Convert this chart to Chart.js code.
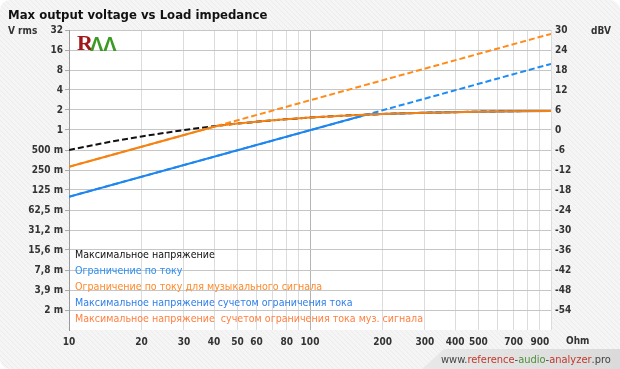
<!DOCTYPE html>
<html>
<head>
<meta charset="utf-8">
<script src="https://cdn.jsdelivr.net/npm/chart.js@4.4.0/dist/chart.umd.min.js"></script>
<style>
  html, body { margin: 0; padding: 0; background: #fff; }
  #wrap { width: 620px; height: 369px; }
</style>
</head>
<body>
<div id="wrap"><canvas id="voltChart" width="620" height="369"></canvas></div>
<script>
// load impedance ticks (Ohm)
const ohmTicks  = [10, 20, 30, 40, 50, 60, 70, 80, 90, 100, 200, 300, 400, 500, 600, 700, 800, 900, 1000];
const ohmLabels = ['10', '20', '30', '40', '50', '60', '', '80', '', '100', '200', '300', '400', '500', '', '700', '', '900', ''];

// voltage ticks (V rms), one per octave, and their dBV twins
const voltTicks  = [0.001953125, 0.00390625, 0.0078125, 0.015625, 0.03125, 0.0625, 0.125, 0.25, 0.5, 1, 2, 4, 8, 16, 32];
const voltLabels = ['2 m', '3,9 m', '7,8 m', '15,6 m', '31,2 m', '62,5 m', '125 m', '250 m', '500 m', '1', '2', '4', '8', '16', '32'];
const dbvLabels  = ['-54', '-48', '-42', '-36', '-30', '-24', '-18', '-12', '-6', '0', '6', '12', '18', '24', '30'];

// series
const maxVoltOhms = [10, 15, 20, 30, 40, 50, 70, 100, 150, 200, 300, 500, 700, 1000];
const maxVolt     = [0.50, 0.67, 0.80, 1.00, 1.14, 1.25, 1.40, 1.54, 1.67, 1.74, 1.82, 1.89, 1.92, 1.94];

const currLimitOhms = [10, 1000];
const currLimit     = [0.099, 9.9];

const musicLimitOhms = [10, 1000];
const musicLimit     = [0.28, 28];

const maxCurrOhms = [10, 172, 200, 300, 500, 700, 1000];
const maxCurr     = [0.099, 1.71, 1.74, 1.82, 1.89, 1.92, 1.94];

const maxMusicOhms = [10, 20, 30, 41, 50, 70, 100, 150, 200, 300, 500, 700, 1000];
const maxMusic     = [0.28, 0.56, 0.84, 1.15, 1.25, 1.40, 1.54, 1.67, 1.74, 1.82, 1.89, 1.92, 1.94];

const FONT = "'DejaVu Sans Condensed', 'DejaVu Sans', sans-serif";

function pts(xs, ys) {
  return xs.map((x, i) => ({ x: x, y: ys[i] }));
}

// hatched grey background with rounded corners, white plot area
const backgroundPlugin = {
  id: 'backdrop',
  beforeDraw(chart) {
    const ctx = chart.ctx;
    const w = chart.width, h = chart.height;
    ctx.save();
    ctx.fillStyle = '#fff';
    ctx.fillRect(0, 0, w, h);

    const tile = document.createElement('canvas');
    tile.width = 5; tile.height = 5;
    const t = tile.getContext('2d');
    t.fillStyle = '#f5f5f5';
    t.fillRect(0, 0, 5, 5);
    t.strokeStyle = '#ececec';
    t.lineWidth = 1;
    t.beginPath();
    t.moveTo(0, 0); t.lineTo(5, 5);
    t.stroke();

    ctx.beginPath();
    ctx.roundRect(0, 0, w, h, 10);
    ctx.fillStyle = ctx.createPattern(tile, 'repeat');
    ctx.fill();

    // website band
    const g = ctx.createLinearGradient(425, 0, 620, 0);
    g.addColorStop(0, '#e8e8e8');
    g.addColorStop(1, '#dadada');
    ctx.beginPath();
    ctx.moveTo(422, h);
    ctx.lineTo(444, 349);
    ctx.lineTo(w, 349);
    ctx.lineTo(w, h);
    ctx.closePath();
    ctx.fillStyle = g;
    ctx.fill();

    const a = chart.chartArea;
    ctx.fillStyle = '#fff';
    ctx.fillRect(a.left, a.top, a.right - a.left, a.bottom - a.top);

    // title and units
    ctx.fillStyle = '#111';
    ctx.font = 'bold 13px ' + FONT;
    ctx.textBaseline = 'alphabetic';
    ctx.fillText('Max output voltage vs Load impedance', 8, 19);

    ctx.fillStyle = '#333';
    ctx.font = 'bold 10px ' + FONT;
    ctx.textBaseline = 'middle';
    ctx.fillText('V rms', 8, 31);
    ctx.fillText('dBV', 591, 31);
    ctx.fillText('Ohm', 566, 341);

    // site address
    const parts = [['www.', '#444'], ['reference', '#c0392b'], ['-', '#444'], ['audio', '#4e8f3a'],
                   ['-', '#444'], ['analyzer', '#c0392b'], ['.pro', '#444']];
    ctx.font = '11px ' + FONT;
    let x = 441;
    parts.forEach(p => {
      ctx.fillStyle = p[1];
      ctx.fillText(p[0], x, 360);
      x += ctx.measureText(p[0]).width;
    });
    ctx.restore();
  }
};

// colored text legend inside the plot, plus the logo
const legendPlugin = {
  id: 'textLegend',
  afterDraw(chart) {
    const ctx = chart.ctx;
    const a = chart.chartArea;
    ctx.save();
    ctx.font = '10.6px ' + FONT;
    ctx.textBaseline = 'middle';
    chart.data.datasets.forEach((ds, i) => {
      ctx.fillStyle = ds.legendColor;
      ctx.fillText(ds.label, a.left + 6, 255 + i * 16);
    });

    // RAA logo
    ctx.fillStyle = '#a01818';
    ctx.font = 'bold 22px "Liberation Serif", serif';
    ctx.textBaseline = 'alphabetic';
    ctx.fillText('R', a.left + 8, a.top + 20);
    ctx.fillStyle = '#3a9a22';
    ctx.font = 'bold 20px "Liberation Sans", sans-serif';
    ctx.fillText('\u039B\u039B', a.left + 21, a.top + 21);
    ctx.restore();
  }
};

new Chart(document.getElementById('voltChart'), {
  type: 'line',
  data: {
    datasets: [
      {
        label: 'Максимальное напряжение',
        data: pts(maxVoltOhms, maxVolt),
        borderColor: '#111',
        borderDash: [6, 3],
        legendColor: '#111',
        order: 4
      },
      {
        label: 'Ограничение по току',
        data: pts(currLimitOhms, currLimit),
        borderColor: '#1e8cf5',
        borderDash: [6, 3],
        legendColor: '#2f8df0',
        order: 3
      },
      {
        label: 'Ограничение по току для музыкального сигнала',
        data: pts(musicLimitOhms, musicLimit),
        borderColor: '#ff8c1a',
        borderDash: [6, 3],
        legendColor: '#ff8a2a',
        order: 2
      },
      {
        label: 'Максимальное напряжение сучетом ограничения тока',
        data: pts(maxCurrOhms, maxCurr),
        borderColor: '#1e86ee',
        legendColor: '#2f7fe8',
        order: 1
      },
      {
        label: 'Максимальное напряжение  сучетом ограничения тока муз. сигнала',
        data: pts(maxMusicOhms, maxMusic),
        borderColor: '#f58212',
        legendColor: '#ff7f40',
        order: 0
      }
    ]
  },
  options: {
    responsive: false,
    animation: false,
    devicePixelRatio: 1,
    parsing: false,
    layout: { padding: { top: 30, left: 0, right: 0, bottom: 0 } },
    elements: {
      point: { radius: 0 },
      line: { borderWidth: 2, tension: 0 }
    },
    plugins: {
      legend: { display: false },
      tooltip: { enabled: false }
    },
    scales: {
      x: {
        type: 'logarithmic',
        min: 10,
        max: 1000,
        afterBuildTicks: s => { s.ticks = ohmTicks.map(v => ({ value: v })); },
        afterFit: s => { s.height = 39; },
        ticks: {
          autoSkip: false,
          maxRotation: 0,
          padding: 6,
          color: '#333',
          font: { family: FONT, size: 10, weight: 'bold' },
          callback: (v, i) => ohmLabels[i]
        },
        grid: {
          drawTicks: false,
          color: c => (c.tick && c.tick.value === 100) ? '#b4b4b4' : '#dcdcdc'
        },
        border: { display: false }
      },
      y: {
        type: 'logarithmic',
        position: 'left',
        min: 0.0009765625,
        max: 32,
        afterBuildTicks: s => { s.ticks = voltTicks.map(v => ({ value: v })); },
        afterFit: s => { s.width = 69; },
        ticks: {
          autoSkip: false,
          padding: 2,
          color: '#333',
          font: { family: FONT, size: 10, weight: 'bold' },
          callback: (v, i) => voltLabels[i]
        },
        grid: { color: '#c6c6c6', tickLength: 4, tickColor: '#aaa' },
        border: { color: '#999' }
      },
      y2: {
        type: 'logarithmic',
        position: 'right',
        min: 0.0009765625,
        max: 32,
        afterBuildTicks: s => { s.ticks = voltTicks.map(v => ({ value: v })); },
        afterFit: s => { s.width = 69; },
        ticks: {
          autoSkip: false,
          padding: 4,
          color: '#333',
          font: { family: FONT, size: 10, weight: 'bold' },
          callback: (v, i) => dbvLabels[i]
        },
        grid: { drawOnChartArea: false, drawTicks: false },
        border: { display: false }
      }
    }
  },
  plugins: [backgroundPlugin, legendPlugin]
});
</script>
</body>
</html>
